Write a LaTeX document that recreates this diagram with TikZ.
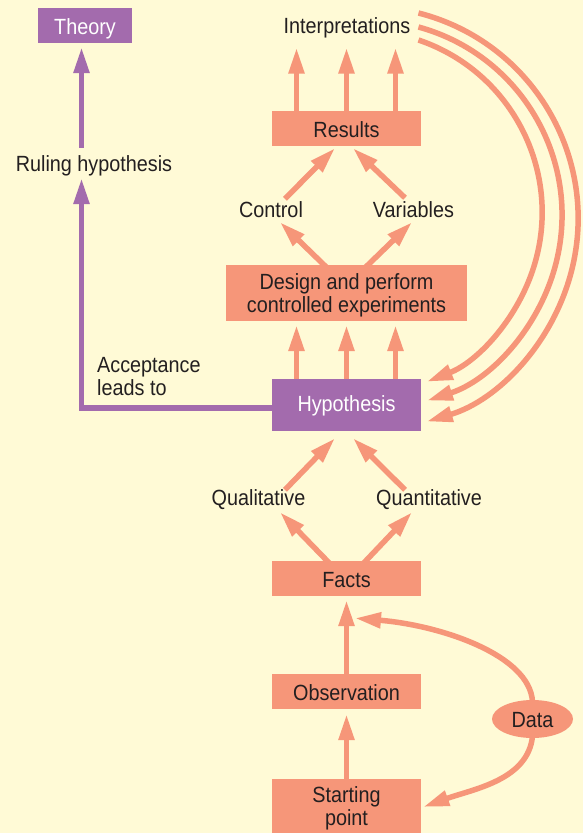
\documentclass[tikz,border=0pt]{standalone}
\usepackage{fontspec}
\setmainfont{Liberation Sans}[FakeStretch=0.9]
\usetikzlibrary{arrows.meta,calc,shapes.geometric}
\definecolor{bg}{RGB}{255,250,214}
\definecolor{sal}{RGB}{246,150,121}
\definecolor{pur}{RGB}{163,107,173}
\definecolor{ink}{RGB}{35,31,32}
\begin{document}
\begin{tikzpicture}[x=1pt,y=-1pt,
  font=\fontsize{22}{23}\selectfont,
  box/.style={fill=sal, text=ink, inner sep=0pt, minimum width=149pt, minimum height=35pt},
  pbox/.style={box, fill=pur, text=white},
  one/.style={text height=17pt, text depth=0pt},
  lbl/.style={text=ink, inner sep=0pt, one, anchor=base},
  arr/.style={draw=sal, line width=5.5pt, -{Triangle[length=26pt,width=15pt]}},
  parr/.style={arr, draw=pur}]
\useasboundingbox (0,0) rectangle (583,833);
\fill[bg] (0,0) rectangle (583,833);
% nodes
\node[pbox, one, minimum width=94pt] (theory) at (85,25.5) {Theory};
\node[lbl] (interp) at (347,33) {Interpretations};
\node[box, one] (results) at (346.5,128.5) {Results};
\node[lbl] (control) at (271,217) {Control};
\node[lbl] (variables) at (413.5,217) {Variables};
\node[box, minimum width=241pt, minimum height=56pt, align=center, text depth=0pt] (design) at (346.5,293) {Design and perform\\controlled experiments};
\node[pbox, minimum height=52pt, text height=17pt, text depth=5pt] (hyp) at (346.5,405) {Hypothesis};
\node[lbl] (ruling) at (94,171) {Ruling hypothesis};
\node[text=ink, inner sep=0pt, anchor=north west, align=left, text depth=0pt] (accept) at (97,357) {Acceptance\\leads to};
\node[lbl] (qual) at (258.5,505) {Qualitative};
\node[lbl] (quant) at (429,505) {Quantitative};
\node[box, one] (facts) at (346.5,578.5) {Facts};
\node[box, one] (obs) at (346.5,691.5) {Observation};
\node[box, minimum height=54pt, align=center, text depth=0pt] (start) at (346.5,806) {Starting\\point};
\node[ellipse, fill=sal, text=ink, inner sep=0pt, minimum width=81pt, minimum height=38pt, one] (data) at (532.5,719) {Data};
% results -> interpretations
\foreach \dx in {-50,0,49}
  \draw[arr] ($(results.north)+(\dx,0)$) -- ($(results.north |- interp.south)+(\dx,14.5)$);
% control / variables -> results
\draw[arr] ($(control.north)+(14,-1)$) -- ($(results.south)+(-11.5,2)$);
\draw[arr] ($(variables.north)+(-8.5,-2)$) -- ($(results.south)+(6.5,2)$);
% design -> control / variables
\draw[arr] ($(design.north)+(-19.5,3)$) -- ($(control.south)+(9,5)$);
\draw[arr] ($(design.north)+(18.5,3)$) -- ($(variables.south)+(-1.5,5)$);
% hypothesis -> design
\foreach \dx in {-50,0,49}
  \draw[arr] ($(hyp.north)+(\dx,0)$) -- ($(design.south)+(\dx,4)$);
% qualitative / quantitative -> hypothesis
\draw[arr] ($(qual.north)+(26.5,2)$) -- ($(hyp.south)+(-11.5,7)$);
\draw[arr] ($(quant.north)+(-24,2)$) -- ($(hyp.south)+(6.5,7)$);
% facts -> qualitative / quantitative
\draw[arr] ($(facts.north)+(-16.5,3)$) -- ($(qual.south)+(21.5,7)$);
\draw[arr] ($(facts.north)+(16.5,3)$) -- ($(quant.south)+(-17,7)$);
% observation -> facts, starting point -> observation
\draw[arr] (obs.north) -- ($(facts.south)+(0,4)$);
\draw[arr] (start.north) -- ($(obs.south)+(0,5)$);
% data curves
\draw[arr] ($(data.north)+(0,2)$) .. controls ($(data.north)+(-2.5,-45)$) and ($(facts.south)+(93.5,29)$) .. ($(facts.south)+(8.5,22)$);
\draw[arr] ($(data.south)+(0,-2)$) .. controls ($(data.south)+(-4.5,42)$) and ($(start.east)+(52,-17)$) .. ($(start.east)+(2,1)$);
% interpretations -> hypothesis arcs
\coordinate (i1) at ($(interp.east)+(8,-11.5)$);
\coordinate (i2) at ($(interp.east)+(8,2.5)$);
\coordinate (i3) at ($(interp.east)+(8,15.5)$);
\draw[arr] (i1) arc[start angle=-75.7, end angle=73.4, radius=212];
\draw[arr] (i2) arc[start angle=-74.7, end angle=72.1, radius=195];
\draw[arr] (i3) arc[start angle=-71.3, end angle=68.5, radius=182];
% purple path
\draw[parr] ($(hyp.west)+(2,3)$) -| ($(ruling.south)+(-12.5,7)$);
\draw[parr] ($(ruling.north)+(-12.5,-6)$) -- ($(theory.south)+(-3.5,4)$);
\end{tikzpicture}
\end{document}
